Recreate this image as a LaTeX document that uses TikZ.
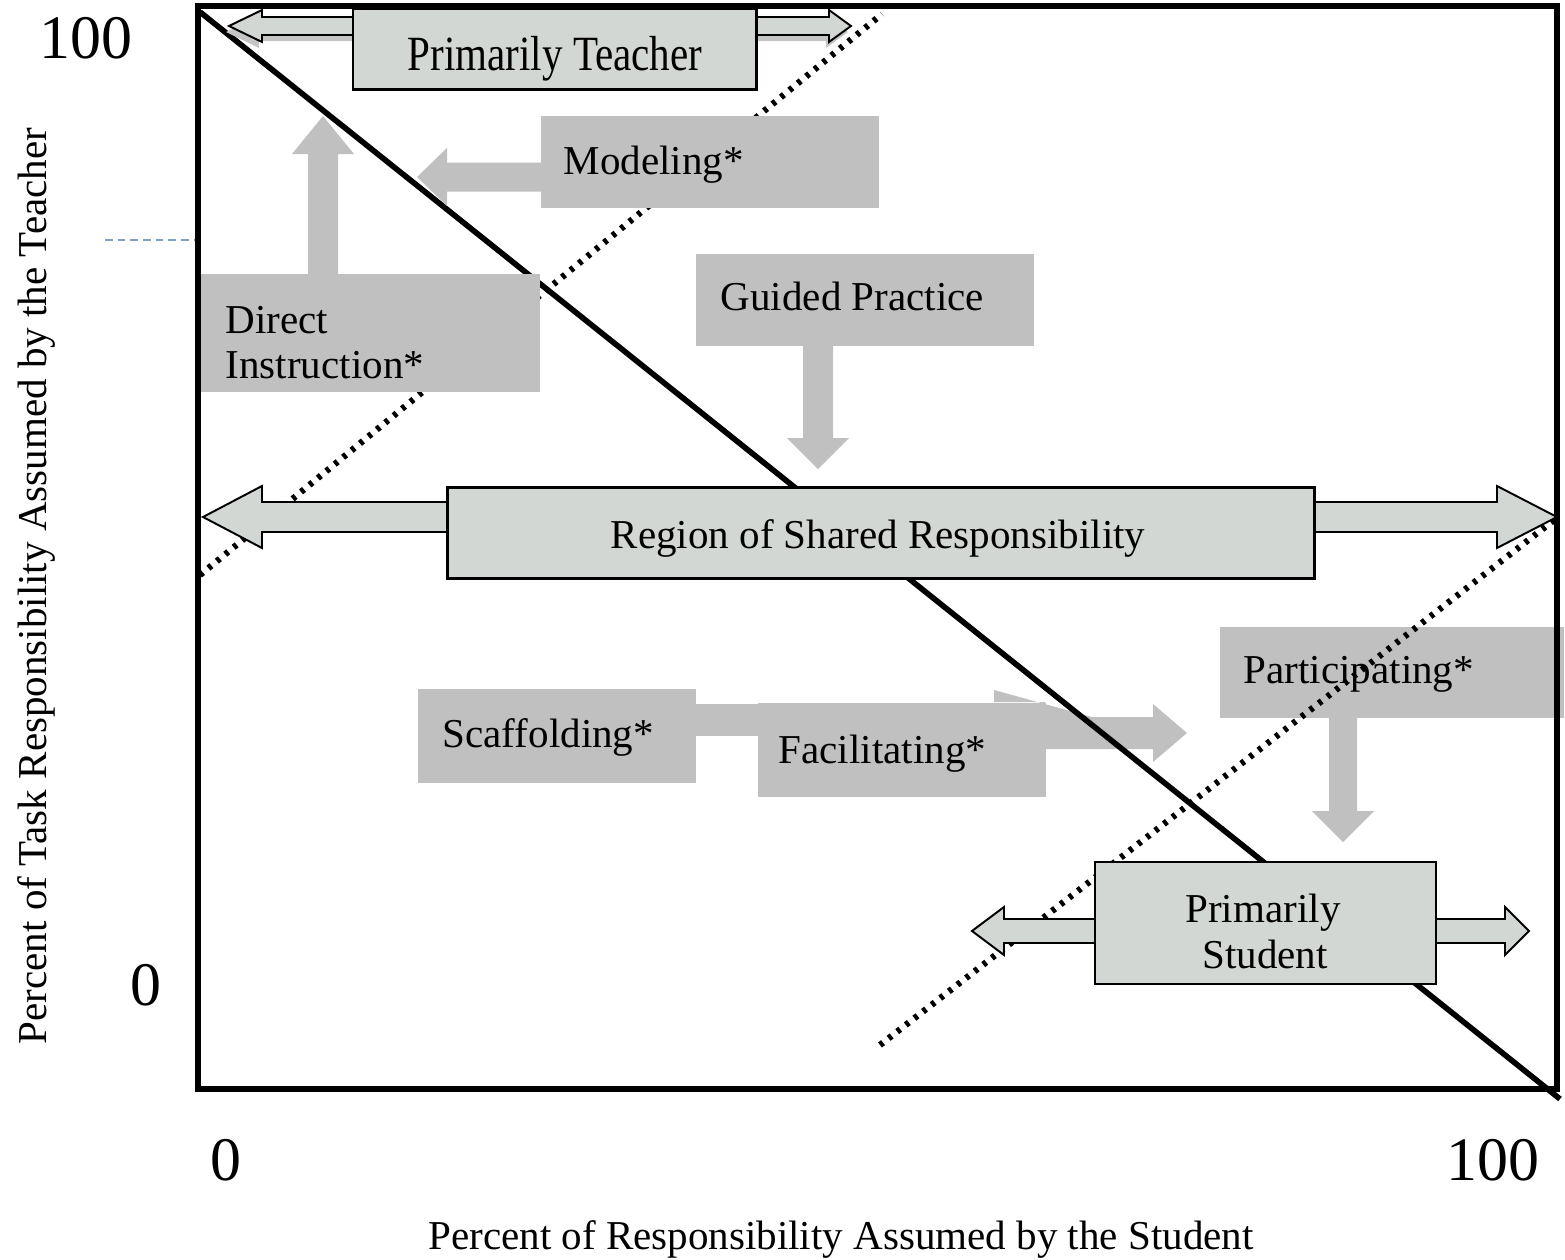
\documentclass[tikz,border=0pt]{standalone}
\usepackage{fontspec}
\usepackage{graphicx}
\setmainfont{Liberation Serif}

\definecolor{boxgray}{RGB}{192,192,192}
\definecolor{boxlight}{RGB}{211,215,211}
\definecolor{shadowgray}{RGB}{196,196,196}
\definecolor{guideblue}{RGB}{127,159,198}

\newcommand\lblsize{\fontsize{11.67pt}{14pt}\selectfont}
\newcommand\numsize{\fontsize{17.6pt}{20pt}\selectfont}

% horizontal block arrow: style, tail x, head base x, tip x, y, shaft half, head half
\newcommand\harrow[7]{%
  \path[#1] ({#2},{#5-#6}) -- ({#3},{#5-#6}) -- ({#3},{#5-#7}) -- ({#4},{#5})
    -- ({#3},{#5+#7}) -- ({#3},{#5+#6}) -- ({#2},{#5+#6}) -- cycle;}
% vertical block arrow: style, x, tail y, head base y, tip y, shaft half, head half
\newcommand\varrow[7]{%
  \path[#1] ({#2-#6},{#3}) -- ({#2-#6},{#4}) -- ({#2-#7},{#4}) -- ({#2},{#5})
    -- ({#2+#7},{#4}) -- ({#2+#6},{#4}) -- ({#2+#6},{#3}) -- cycle;}
% two-headed block arrow: style, left tip, left base, right base, right tip, y, shaft half, head half
\newcommand\dblarrow[8]{%
  \path[#1] ({#2},{#6}) -- ({#3},{#6-#8}) -- ({#3},{#6-#7}) -- ({#4},{#6-#7})
    -- ({#4},{#6-#8}) -- ({#5},{#6}) -- ({#4},{#6+#8}) -- ({#4},{#6+#7})
    -- ({#3},{#6+#7}) -- ({#3},{#6+#8}) -- cycle;}

\begin{document}
\begin{tikzpicture}[x=0.01cm,y=-0.01cm,
  graybox/.style={fill=boxgray, draw=none, inner sep=0pt, anchor=north west},
  lightbox/.style={fill=boxlight, draw=black, line width=0.7pt, inner sep=0pt,
                   anchor=north west, line join=miter},
  lbl/.style={inner sep=0pt, font=\lblsize, anchor=base west},
  num/.style={inner sep=0pt, font=\numsize, anchor=base},
  grayarrow/.style={fill=boxgray},
  openarrow/.style={fill=boxlight, draw=black, line width=0.55pt, line join=miter},
  shadowarrow/.style={fill=shadowgray},
  frameline/.style={line width=1.8pt, line join=miter},
  diagline/.style={line width=1.6pt},
  dotline/.style={line width=1.8pt, dash pattern=on 1.1pt off 2.0pt},
]
\useasboundingbox (0,0) rectangle (1565,1260);

% small guide mark left of the frame
\draw[guideblue, line width=0.4pt, dash pattern=on 2.2pt off 1.4pt] (105,240) -- (203,240);

% Scaffolding -> Facilitating group
\fill[boxgray] (694,704) rectangle (758,736);
\fill[boxgray] (994,702) -- (994,690) -- (1092,717) -- (1045,717) -- (1045,702) -- cycle;
\harrow{grayarrow}{1044}{1153}{1187}{733}{16}{29}
\node[graybox, minimum width=27.8mm, minimum height=9.4mm] (sca) at (417,688) {};
\node[lbl] (tsca) at (442,747) {Scaffolding*};
\node[graybox, minimum width=28.8mm, minimum height=9.4mm] (fac) at (757,702) {};
\node[lbl] (tfac) at (778,763) {Facilitating*};

% Participating box (the dotted line runs over it)
\node[graybox, minimum width=34.4mm, minimum height=9.1mm] (par) at (1219,626) {};
\node[lbl] (tpar) at (1243,683) {Participating*};
\varrow{grayarrow}{1343}{716}{811}{842}{14}{31}

% responsibility lines
\draw[diagline] (200,12) -- (1560,1099);
\draw[dotline] (200,575) -- (882,14);
\draw[dotline] (880,1045) -- (1558,517);

% Modeling
\harrow{grayarrow}{541}{447}{417}{177}{14.5}{29}
\node[graybox, minimum width=33.8mm, minimum height=9.2mm] (mod) at (540,115) {};
\node[lbl] (tmod) at (563,174) {Modeling*};

% Direct Instruction
\varrow{grayarrow}{323}{274}{154}{116}{15}{31}
\node[graybox, minimum width=33.9mm, minimum height=11.8mm] (di) at (200,273) {};
\node[lbl] (tdi1) at (225,333) {Direct};
\node[lbl] (tdi2) at (225,378) {Instruction*};

% Guided Practice
\varrow{grayarrow}{818}{344}{438}{469}{15}{31}
\node[graybox, minimum width=33.8mm, minimum height=9.2mm] (gp) at (695,253) {};
\node[lbl] (tgp) at (720,310) {Guided Practice};

% Primarily Teacher
\begin{scope}[shift={(-3,6)}]
  \dblarrow{shadowarrow}{229}{262}{829}{851}{26}{9}{16}
\end{scope}
\dblarrow{openarrow}{229}{262}{829}{851}{26}{9}{16}
\node[lightbox, minimum width=40.3mm, minimum height=8.0mm] (pt) at (352,8) {};
\node[lbl, anchor=base] (tpt) at (555,70) {\scalebox{1}[1.2]{Primarily Teacher}};

% Region of Shared Responsibility
\dblarrow{openarrow}{203}{262}{1497}{1557}{517}{15}{31}
\node[lightbox, line width=0.9pt, minimum width=86.6mm, minimum height=9.1mm] (rsr) at (446,486) {};
\node[lbl] (trsr) at (610,548) {Region of Shared Responsibility};

% Primarily Student
\dblarrow{openarrow}{972}{1004}{1505}{1529}{931}{12}{24}
\node[lightbox, line width=0.6pt, minimum width=34.1mm, minimum height=12.2mm] (ps) at (1094,861) {};
\node[lbl, anchor=base] (tps1) at (1263,922) {Primarily};
\node[lbl, anchor=base] (tps2) at (1265,968) {Student};

% frame
\draw[frameline] (198,6) rectangle (1557,1089);

% scale numbers
\node[num] (ytop) at (86,58) {100};
\node[num] (ybot) at (146,1005) {0};
\node[num] (xleft) at (226,1180) {0};
\node[num] (xright) at (1493,1180) {100};

% axis titles
\node[lbl, anchor=base] (xtitle) at (841,1249) {Percent of Responsibility Assumed by the Student};
\node[lbl, anchor=base west, rotate=90] (ytitle) at (47,1045) {Percent of Task Responsibility Assumed by the Teacher};
\end{tikzpicture}
\end{document}
